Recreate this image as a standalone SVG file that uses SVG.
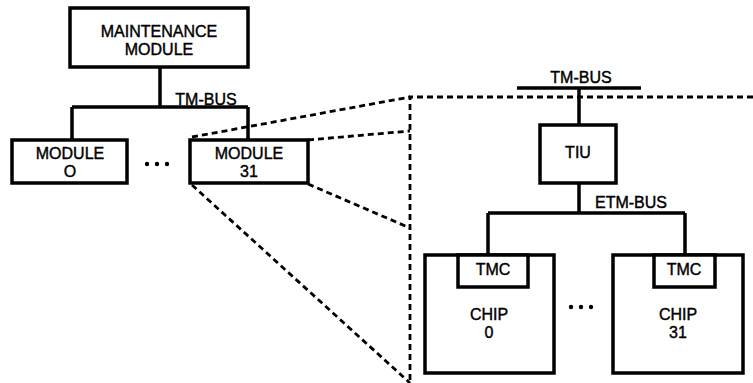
<svg xmlns="http://www.w3.org/2000/svg" width="753" height="383" viewBox="0 0 753 383">
<style>
.box{fill:#fff;stroke:#000;stroke-width:3.5}
.ln{fill:none;stroke:#000;stroke-width:3.5}
.dash{fill:none;stroke:#000;stroke-width:2.8;stroke-dasharray:6 4}
text{font-family:"Liberation Sans",Arial,sans-serif;font-size:16px;fill:#000;stroke:#000;stroke-width:0.4;text-anchor:middle}
.dot{fill:#000}
</style>
<g id="connectors">
<path class="ln" d="M160 67V107M72 107H248M72 107V140M248 107V140"/>
<path class="ln" d="M517 88H641M579 88V125M579 183V213M488 213H685M488 213V255M685 213V255"/>
<path class="dash" d="M753 97H410V383"/>
<path class="dash" d="M192 137L410 97M308 140L410 131M308 184L410 228M192 185L410 383"/>
</g>
<g id="maintenance">
<rect class="box" x="70" y="8" width="178" height="59"/>
<text x="159" y="37">MAINTENANCE</text>
<text x="159" y="55">MODULE</text>
</g>
<text x="206" y="105">TM-BUS</text>
<g id="module0">
<rect class="box" x="12" y="140" width="115" height="43"/>
<text x="70" y="159">MODULE</text>
<text x="70" y="177">O</text>
</g>
<g id="dots1">
<circle class="dot" cx="147" cy="164" r="2.2"/><circle class="dot" cx="157" cy="164" r="2.2"/><circle class="dot" cx="167" cy="164" r="2.2"/>
</g>
<g id="module31">
<rect class="box" x="190" y="140" width="118" height="43"/>
<text x="249" y="159">MODULE</text>
<text x="249" y="177">31</text>
</g>
<text x="581" y="83">TM-BUS</text>
<g id="tiu">
<rect class="box" x="540" y="125" width="76" height="58"/>
<text x="578" y="158">TIU</text>
</g>
<text x="631" y="208">ETM-BUS</text>
<g id="chip0">
<rect class="box" x="425" y="255" width="129" height="118"/>
<rect class="box" x="458" y="255" width="70" height="32"/>
<text x="493" y="275">TMC</text>
<text x="489" y="320">CHIP</text>
<text x="489" y="338">0</text>
</g>
<g id="dots2">
<circle class="dot" cx="571" cy="307" r="2.2"/><circle class="dot" cx="581" cy="307" r="2.2"/><circle class="dot" cx="591" cy="307" r="2.2"/>
</g>
<g id="chip31">
<rect class="box" x="613" y="255" width="130" height="118"/>
<rect class="box" x="654" y="255" width="61" height="32"/>
<text x="684" y="275">TMC</text>
<text x="678" y="320">CHIP</text>
<text x="678" y="338">31</text>
</g>
</svg>
